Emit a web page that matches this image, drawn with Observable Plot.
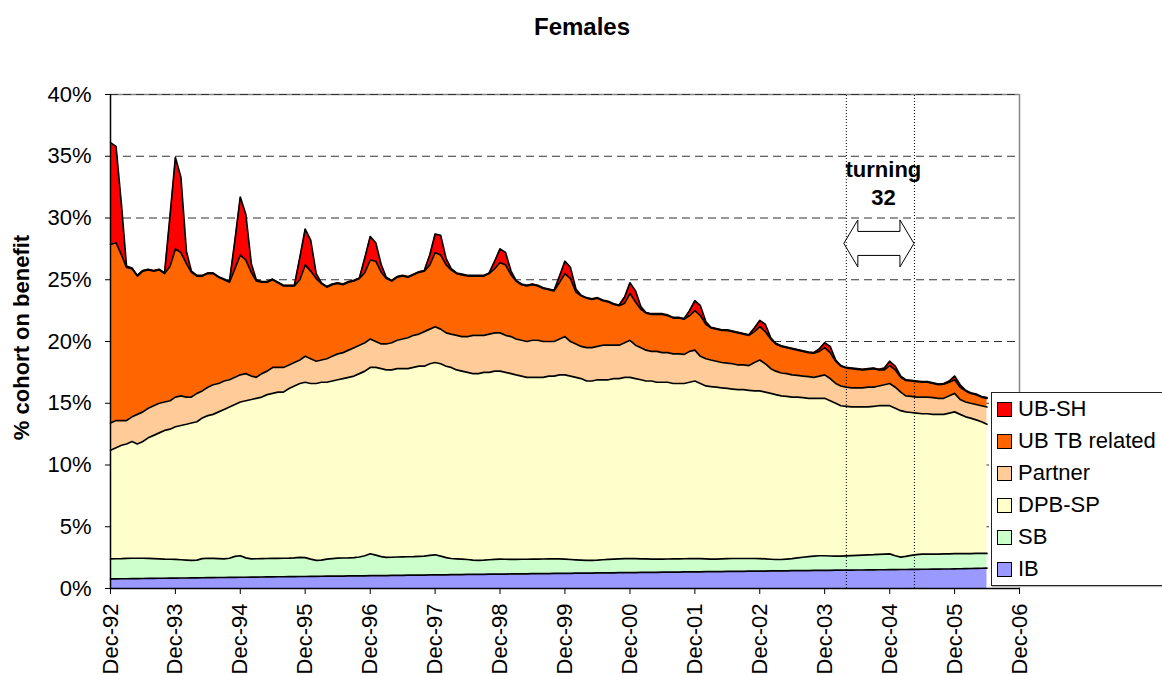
<!DOCTYPE html>
<html>
<head>
<meta charset="utf-8">
<script src="https://cdn.jsdelivr.net/npm/d3@7"></script>
<script src="https://cdn.jsdelivr.net/npm/@observablehq/plot@0.6"></script>
<style>
  body { margin: 0; background: #fff; font-family: Arial, "Liberation Sans", sans-serif; }
  #wrap { position: relative; width: 1162px; height: 675px; overflow: hidden; }
  #title { position: absolute; left: 0; top: 14px; width: 1164px; height: 26px; line-height: 26px;
           text-align: center; font-weight: bold; font-size: 24px; color: #000; }
  #chart { position: absolute; left: 0; top: 0; }
  #legend { position: absolute; left: 991px; top: 392px; width: 200px; height: 192px;
            border: 1px solid #222; background: #fff; box-shadow: 1px 1px 1px #bbb; }
  .li { height: 32px; display: flex; align-items: center; font-size: 22px; color: #000; white-space: nowrap; }
  .sw { width: 13px; height: 13px; border: 1px solid #000; margin-left: 5px; margin-right: 6px; flex: none; }
</style>
</head>
<body>
<div id="wrap">
  <div id="chart"></div>
  <div id="title">Females</div>
  <div id="legend"></div>
</div>
<script>
// ---- Data (monthly, Dec-92 .. Jun-06), % of cohort ----
const seriesNames = ["IB", "SB", "DPB-SP", "Partner", "UB TB related", "UB-SH"];
const seriesColors = ["#9999FF", "#CCFFCC", "#FFFFCC", "#FFCC99", "#FF6600", "#FF0000"];
const xTickLabels = ["Dec-92","Dec-93","Dec-94","Dec-95","Dec-96","Dec-97","Dec-98","Dec-99","Dec-00","Dec-01","Dec-02","Dec-03","Dec-04","Dec-05","Dec-06"];
const yTicks = [0, 5, 10, 15, 20, 25, 30, 35, 40];

const ib = [
0.78,0.78,0.79,0.79,0.80,0.80,0.81,0.82,0.82,0.83,0.83,0.84,
0.84,0.85,0.85,0.86,0.86,0.87,0.88,0.88,0.89,0.89,0.90,0.90,
0.91,0.91,0.92,0.92,0.93,0.94,0.94,0.95,0.95,0.96,0.96,0.97,
0.97,0.98,0.98,0.99,1.00,1.00,1.01,1.01,1.02,1.02,1.03,1.03,
1.04,1.04,1.05,1.05,1.06,1.07,1.07,1.08,1.08,1.09,1.09,1.10,
1.10,1.11,1.11,1.12,1.12,1.13,1.14,1.14,1.15,1.15,1.16,1.16,
1.17,1.17,1.18,1.18,1.19,1.19,1.20,1.20,1.21,1.21,1.22,1.22,
1.23,1.23,1.24,1.24,1.25,1.25,1.26,1.26,1.27,1.27,1.28,1.28,
1.29,1.29,1.30,1.30,1.31,1.31,1.32,1.32,1.33,1.33,1.34,1.34,
1.35,1.35,1.36,1.36,1.37,1.37,1.38,1.38,1.39,1.39,1.40,1.40,
1.41,1.41,1.42,1.42,1.43,1.43,1.44,1.44,1.45,1.45,1.46,1.46,
1.47,1.47,1.48,1.48,1.49,1.49,1.50,1.50,1.51,1.51,1.52,1.52,
1.53,1.53,1.54,1.54,1.55,1.55,1.56,1.56,1.57,1.57,1.58,1.58,
1.59,1.60,1.61,1.62,1.63,1.64,1.65];

const sb = [
1.62,1.63,1.63,1.65,1.65,1.65,1.64,1.62,1.60,1.57,1.55,1.53,
1.52,1.48,1.45,1.42,1.44,1.55,1.57,1.56,1.53,1.51,1.55,1.70,
1.74,1.57,1.48,1.49,1.49,1.49,1.50,1.49,1.50,1.50,1.52,1.55,
1.53,1.40,1.30,1.31,1.38,1.42,1.45,1.46,1.46,1.48,1.52,1.62,
1.77,1.66,1.53,1.47,1.47,1.48,1.49,1.49,1.50,1.51,1.53,1.58,
1.63,1.51,1.39,1.31,1.28,1.25,1.21,1.16,1.13,1.15,1.17,1.20,
1.21,1.20,1.18,1.18,1.18,1.18,1.18,1.18,1.18,1.19,1.18,1.18,
1.15,1.12,1.08,1.06,1.03,1.03,1.04,1.07,1.09,1.11,1.12,1.14,
1.14,1.13,1.10,1.10,1.07,1.07,1.06,1.07,1.07,1.07,1.07,1.08,
1.08,1.07,1.04,1.02,1.01,1.03,1.04,1.05,1.04,1.04,1.03,1.03,
1.01,0.99,0.95,0.93,0.92,0.95,0.98,1.04,1.08,1.13,1.16,1.19,
1.18,1.16,1.14,1.14,1.15,1.17,1.18,1.20,1.21,1.23,1.25,1.27,
1.27,1.12,1.00,1.06,1.13,1.19,1.22,1.22,1.21,1.22,1.22,1.23,
1.23,1.22,1.22,1.21,1.21,1.20,1.19];

const dpb = [
8.80,8.99,9.18,9.26,9.45,9.25,9.45,9.76,9.98,10.20,10.42,10.53,
10.74,10.87,11.00,11.12,11.20,11.38,11.55,11.66,11.88,12.10,12.25,12.30,
12.45,12.72,12.90,12.99,13.08,13.27,13.36,13.46,13.45,13.74,13.92,14.08,
14.20,14.22,14.32,14.40,14.32,14.38,14.44,14.53,14.62,14.70,14.85,14.95,
15.09,15.20,15.22,15.18,15.17,15.25,15.24,15.23,15.32,15.40,15.38,15.52,
15.57,15.58,15.50,15.47,15.30,15.22,15.15,15.10,15.12,15.20,15.17,15.24,
15.22,15.13,15.04,14.94,14.83,14.73,14.72,14.72,14.71,14.80,14.80,14.90,
14.92,14.85,14.78,14.70,14.52,14.52,14.60,14.57,14.54,14.62,14.60,14.68,
14.67,14.58,14.50,14.40,14.42,14.32,14.32,14.31,14.20,14.20,14.19,14.28,
14.37,14.18,14.00,13.97,13.92,13.85,13.78,13.72,13.67,13.67,13.62,13.57,
13.58,13.50,13.43,13.35,13.25,13.17,13.08,13.02,12.92,12.82,12.78,12.75,
12.75,12.57,12.38,12.18,12.11,12.04,12.02,12.00,11.98,12.01,12.03,12.01,
12.00,11.95,11.86,11.70,11.57,11.46,11.37,11.37,11.32,11.31,11.30,11.39,
11.48,11.28,11.07,10.97,10.81,10.66,10.46];

const partner = [
2.2,2.2,2.0,1.9,2.0,2.4,2.4,2.4,2.4,2.4,2.3,2.3,
2.4,2.4,2.2,2.1,2.3,2.2,2.3,2.4,2.3,2.3,2.2,2.2,
2.2,2.2,1.9,1.7,1.9,1.9,2.1,2.0,2.0,1.9,1.9,1.9,
2.1,2.0,1.8,1.8,1.9,2.0,2.1,2.1,2.2,2.3,2.3,2.3,
2.3,2.1,2.0,2.1,2.2,2.3,2.4,2.5,2.6,2.6,2.8,2.8,
2.9,2.8,2.7,2.7,2.8,2.8,2.9,3.1,3.1,3.0,3.1,3.1,
3.1,3.0,3.0,2.9,2.9,2.9,3.0,3.0,2.9,2.8,2.8,2.9,
3.1,2.8,2.7,2.6,2.7,2.7,2.7,2.8,2.8,2.7,2.7,2.8,
3.0,2.7,2.6,2.5,2.4,2.5,2.4,2.4,2.4,2.4,2.35,2.5,
2.5,2.2,2.2,2.15,2.1,2.05,2.05,2.05,2.0,2.0,2.0,2.3,
2.5,2.3,2.0,1.9,1.85,1.85,1.8,1.75,1.75,1.75,1.7,1.8,
1.9,1.8,1.6,1.6,1.55,1.55,1.55,1.55,1.6,1.55,1.6,1.7,
1.8,1.7,1.5,1.3,1.3,1.3,1.35,1.35,1.35,1.3,1.3,1.4,
1.5,1.2,1.2,1.2,1.25,1.3,1.4];

const ubtb = [
14.45,14.4,13.4,12.4,12.0,11.2,11.4,11.2,10.9,10.8,10.4,10.9,
12.0,11.6,10.8,10.1,9.5,9.3,9.2,9.0,8.6,8.2,7.9,8.8,
9.7,9.2,8.4,7.8,7.4,7.2,7.1,6.85,6.6,6.4,6.2,6.5,
7.4,7.1,6.7,6.2,5.8,5.8,5.7,5.5,5.5,5.4,5.4,5.7,
6.4,6.5,5.8,5.3,5.0,5.1,5.1,4.9,4.9,5.0,4.9,5.2,
6.0,6.0,5.5,5.2,5.0,5.0,4.9,4.8,4.8,4.8,4.9,5.2,
5.7,5.7,5.0,4.7,4.5,4.5,4.5,4.4,4.3,4.2,4.1,4.6,
5.1,5.1,4.2,4.1,4.0,3.9,3.9,3.6,3.5,3.3,3.2,3.2,
3.8,3.5,3.1,3.0,3.0,3.0,3.1,3.0,2.9,2.9,2.85,2.9,
3.2,3.3,2.8,2.6,2.6,2.6,2.65,2.6,2.6,2.5,2.45,2.5,
2.7,2.6,2.4,2.2,2.15,2.1,2.1,2.05,2.0,1.95,1.95,2.0,
2.2,2.1,1.8,1.6,1.55,1.55,1.5,1.45,1.45,1.5,1.3,1.2,
1.45,1.4,1.2,1.25,1.25,1.25,1.2,1.2,1.15,1.1,1.15,1.1,
1.1,1.0,0.9,0.8,0.8,0.7,0.7];

const ubsh = [
8.25,7.8,4.0,0.1,0.05,0.05,0.05,0.05,0.05,0.05,0.05,4.1,
7.4,6.1,1.0,0.1,0.05,0.05,0.05,0.05,0.05,0.05,0.05,2.3,
4.7,3.7,0.7,0.1,0.05,0.05,0.05,0.05,0.05,0.05,0.05,1.8,
2.9,2.5,0.4,0.05,0.05,0.05,0.05,0.05,0.05,0.05,0.05,1.2,
1.9,1.5,0.6,0.1,0.05,0.05,0.05,0.05,0.05,0.05,0.05,0.8,
1.5,1.6,0.5,0.1,0.05,0.05,0.05,0.05,0.05,0.05,0.05,0.6,
1.1,1.0,0.3,0.05,0.05,0.05,0.05,0.05,0.05,0.05,0.05,0.5,
1.0,0.9,0.25,0.05,0.05,0.05,0.05,0.05,0.05,0.05,0.05,0.5,
0.85,0.9,0.2,0.05,0.05,0.05,0.05,0.05,0.05,0.05,0.05,0.4,
0.8,0.8,0.2,0.05,0.05,0.05,0.05,0.05,0.05,0.05,0.05,0.3,
0.5,0.6,0.1,0.05,0.05,0.05,0.05,0.05,0.05,0.05,0.05,0.2,
0.4,0.5,0.1,0.05,0.05,0.05,0.05,0.05,0.05,0.05,0.05,0.15,
0.35,0.3,0.1,0.05,0.05,0.05,0.05,0.05,0.05,0.05,0.05,0.1,
0.3,0.2,0.05,0.05,0.05,0.05,0.05];

// annotation: the "turning 32" window
const turningDates = [new Date(2004, 3, 1), new Date(2005, 3, 19)];
const turningLabel = "turning\n32";
const turningLabelLevel = 32.9;
const arrowLevel = 27.9;

// ---- build table ----
const seriesValues = [ib, sb, dpb, partner, ubtb, ubsh];
const dates = d3.range(ib.length).map(i => new Date(1992, 11 + i, 1));
const rows = seriesNames.flatMap((name, s) =>
  seriesValues[s].map((v, i) => ({date: dates[i], series: name, value: v})));
const xStart = new Date(1992, 11, 1), xEnd = new Date(2006, 11, 1);
const xTicks = d3.range(xTickLabels.length).map(k => new Date(1992 + k, 11, 1));
const font = 'Arial, "Liberation Sans", sans-serif';

const blockArrow = (index, scales) => {
  const xa = scales.x(turningDates[0]) - 2, xb = scales.x(turningDates[1]);
  const yc = scales.y(arrowLevel);
  const hl = 14, hh = 23.5, sh = 12;
  const p = document.createElementNS("http://www.w3.org/2000/svg", "path");
  p.setAttribute("d",
    `M${xa},${yc} L${xa+hl},${yc-hh} L${xa+hl},${yc-sh} L${xb-hl},${yc-sh} L${xb-hl},${yc-hh} L${xb},${yc} ` +
    `L${xb-hl},${yc+hh} L${xb-hl},${yc+sh} L${xa+hl},${yc+sh} L${xa+hl},${yc+hh} Z`);
  p.setAttribute("fill", "#fff");
  p.setAttribute("stroke", "#000");
  p.setAttribute("stroke-width", "1");
  return p;
};

const chart = Plot.plot({
  width: 1162,
  height: 675,
  marginLeft: 110,
  marginRight: 143,
  marginTop: 94,
  marginBottom: 87,
  style: {fontFamily: font, background: "transparent"},
  x: {type: "time", domain: [xStart, xEnd]},
  y: {domain: [0, 40]},
  color: {domain: seriesNames, range: seriesColors},
  marks: [
    Plot.ruleY([40], {stroke: "#888", strokeWidth: 1.5}),
    Plot.ruleY(yTicks.filter(d => d > 0), {stroke: "#333", strokeWidth: 1, strokeDasharray: "8,5"}),
    Plot.ruleX([xEnd], {y1: 0, y2: 40, stroke: "#888", strokeWidth: 1.5}),
    Plot.areaY(rows, {x: "date", y: "value", z: "series", fill: "series", order: seriesNames}),
    Plot.lineY(rows, Plot.stackY2({x: "date", y: "value", z: "series", order: seriesNames,
      stroke: "#000", strokeWidth: 1.7})),
    blockArrow,
    Plot.ruleX(turningDates, {y1: 0, y2: 40, stroke: "#000", strokeWidth: 1, strokeDasharray: "1,2"}),
    Plot.text([turningLabel], {x: () => new Date((+turningDates[0] + +turningDates[1]) / 2), y: turningLabelLevel,
      text: d => d, dx: 3, fontSize: 22, fontWeight: "bold", lineHeight: 1.27, lineAnchor: "middle", fill: "#000"}),
    Plot.ruleX([xStart], {y1: 0, y2: 40, stroke: "#000", strokeWidth: 1.5}),
    Plot.ruleY([0], {stroke: "#000", strokeWidth: 1.5}),
    Plot.axisY({ticks: yTicks, tickFormat: d => d + "%", tickSize: 5, tickPadding: 14, fontSize: 22, label: null}),
    Plot.axisX({ticks: xTicks, tickFormat: (d, i) => xTickLabels[i], tickSize: 6, tickPadding: 9,
      tickRotate: -90, fontSize: 22, label: null}),
    Plot.text(["% cohort on benefit"], {frameAnchor: "left", dx: -89, dy: -4, rotate: -90, textAnchor: "middle",
      fontSize: 22, fontWeight: "bold", fill: "#000", text: d => d})
  ]
});
document.getElementById("chart").appendChild(chart);

// legend (top series first)
const legend = d3.select("#legend");
seriesNames.map((n, i) => ({n, c: seriesColors[i]})).reverse().forEach(({n, c}) => {
  const row = legend.append("div").attr("class", "li");
  row.append("div").attr("class", "sw").style("background", c);
  row.append("span").text(n);
});
</script>
</body>
</html>
